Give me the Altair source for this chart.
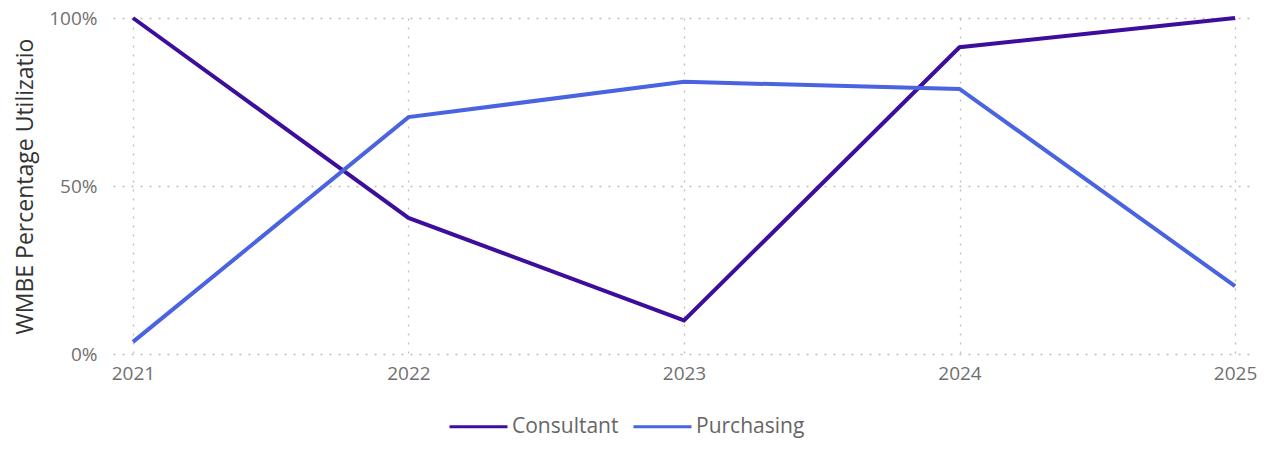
import altair as alt
import pandas as pd

years = ["2021", "2022", "2023", "2024", "2025"]
consultant = [1.00, 0.405, 0.10, 0.913, 1.00]
purchasing = [0.036, 0.705, 0.81, 0.789, 0.202]
series = ["Consultant", "Purchasing"]
colors = ["#3D0E9C", "#4A63E0"]

rows = []
for y, v in zip(years, consultant):
    rows.append({"Year": y, "Type": series[0], "Value": v})
for y, v in zip(years, purchasing):
    rows.append({"Year": y, "Type": series[1], "Value": v})
df = pd.DataFrame(rows)

font = "Segoe UI, Open Sans, sans-serif"

chart = alt.Chart(df).mark_line(strokeWidth=4).encode(
    x=alt.X("Year:O", sort=years,
            scale=alt.Scale(type="point", padding=0.0725),
            axis=alt.Axis(title=None, labelAngle=0, labelFontSize=19, labelColor="#707070",
                          labelFont=font, domain=False, ticks=False, labelPadding=10,
                          grid=True, gridDash=[2, 7], gridColor="#bdbdbd", gridWidth=1.3)),
    y=alt.Y("Value:Q", scale=alt.Scale(domain=[0, 1], nice=False),
            axis=alt.Axis(title="WMBE Percentage Utilizatio", format=".0%", values=[0, 0.5, 1],
                          labelFontSize=19, labelColor="#707070", labelFont=font,
                          titleFontSize=23, titleFontWeight="normal", titleColor="#333333",
                          titleFont=font, titlePadding=11,
                          domain=False, ticks=False, labelPadding=16,
                          grid=True, gridDash=[2, 7], gridColor="#bdbdbd", gridWidth=1.3)),
    color=alt.Color("Type:N", scale=alt.Scale(domain=series, range=colors),
                    legend=alt.Legend(title=None, orient="none", direction="horizontal",
                                      legendX=335, legendY=378,
                                      symbolType="stroke", symbolSize=3364, symbolStrokeWidth=3,
                                      labelFontSize=21, labelColor="#666666", labelFont=font,
                                      labelOffset=3, columnPadding=8)),
).properties(
    width=1142, height=336,
    autosize=alt.AutoSizeParams(type="none"),
    padding={"left": 105, "top": 10, "right": 5, "bottom": 100},
    background="white",
).configure_view(stroke=None)

chart.save("out.html", embed_options={"renderer": "svg", "actions": False})
